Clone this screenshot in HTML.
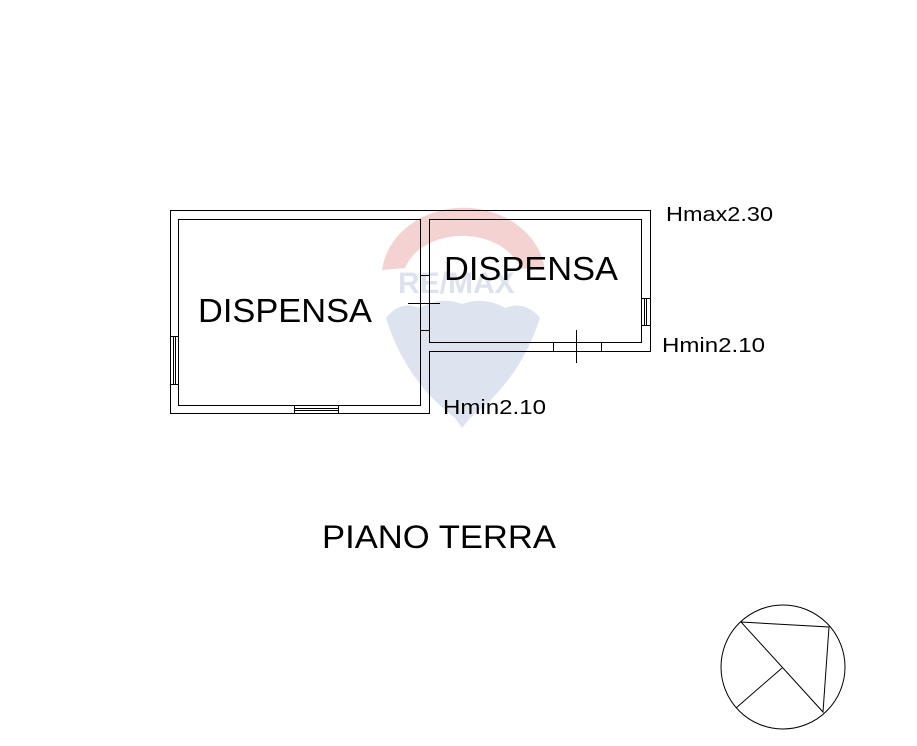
<!DOCTYPE html>
<html><head><style>
body{margin:0;background:#fff;}
svg{display:block}
text{font-family:"Liberation Sans",sans-serif;fill:#000}
</style></head><body>
<svg width="917" height="746" viewBox="0 0 917 746">
<!-- watermark -->
<path d="M382,270 A82,70 0 0 1 545,270 L520,268 A60,45 0 0 0 405,268 Z" fill="#f5d2d2"/>
<text x="398" y="293" font-size="30" font-weight="bold" style="fill:#dce3ee">RE/MAX</text>
<path d="M386,318 Q400,300 420,308 Q440,296 462,304 Q485,296 505,308 Q525,300 540,318 Q520,380 470,418 L462,428 L455,418 Q405,380 386,318 Z" fill="#dde3ef"/>
<g stroke="#000" stroke-width="1" fill="none" shape-rendering="crispEdges">
<path d="M170.5,210.5 H650.5 V351.5 H429.5 V413.5 H170.5 Z"/>
<path d="M178.5,219.5 H420.5 V405.5 H178.5 Z"/>
<path d="M429.5,219.5 H641.5 V342.5 H429.5 Z"/>
<path d="M420,275.5 H429 M408,303.5 H440 M420,330.5 H429"/>
<path d="M170,336.5 H178 M170,384.5 H178 M173.5,336 V384 M175.5,336 V384"/>
<path d="M294.5,405 V413 M338.5,405 V413 M294,408.5 H338 M294,410.5 H338"/>
<path d="M641,298.5 H650 M641,325.5 H650 M644.5,298 V325 M646.5,298 V325"/>
<path d="M553.5,342 V351 M601.5,342 V351 M576.5,330 V363"/>
</g>
<text x="198" y="322" font-size="33" textLength="174" lengthAdjust="spacingAndGlyphs">DISPENSA</text>
<text x="444" y="280" font-size="33" textLength="174" lengthAdjust="spacingAndGlyphs">DISPENSA</text>
<text x="666" y="221" font-size="20" textLength="107" lengthAdjust="spacingAndGlyphs">Hmax2.30</text>
<text x="662" y="352" font-size="20" textLength="103" lengthAdjust="spacingAndGlyphs">Hmin2.10</text>
<text x="443" y="414" font-size="20" textLength="103" lengthAdjust="spacingAndGlyphs">Hmin2.10</text>
<text x="322" y="548" font-size="32" textLength="234" lengthAdjust="spacingAndGlyphs">PIANO TERRA</text>
<g stroke="#000" stroke-width="1" fill="none">
<circle cx="783" cy="667" r="62"/>
<path d="M741,622 L829,627 L823,712 Z"/>
<path d="M782,668 L736,708"/>
</g>
</svg>
</body></html>
